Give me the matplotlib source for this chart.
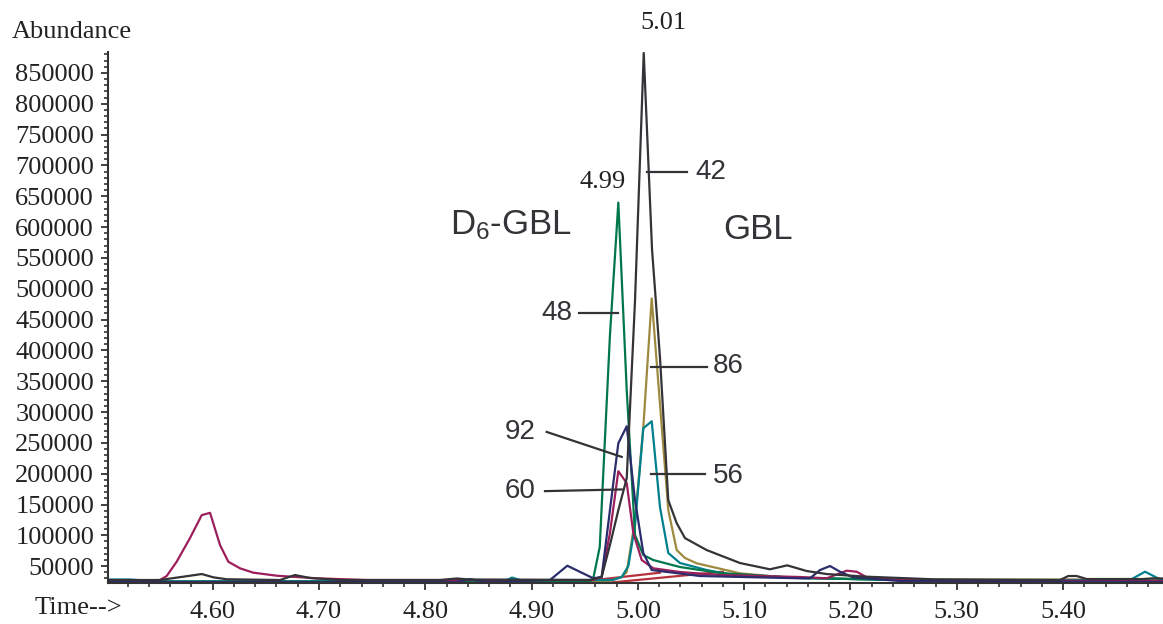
import matplotlib
matplotlib.use('Agg')
import matplotlib.pyplot as plt
from matplotlib.ticker import MultipleLocator, FuncFormatter

# ion traces (time in min, abundance)
black_t = [4.5015, 4.5504, 4.5897, 4.6006, 4.6132, 4.6633, 4.6774, 4.6915, 4.7198, 4.8138,
           4.8295, 4.8420, 4.9549, 4.9659, 4.9737, 4.9816, 4.9895, 4.9973, 5.0055, 5.0133,
           5.0208, 5.0286, 5.0365, 5.0443, 5.0647, 5.0960, 5.1242, 5.1405, 5.1588, 5.1776,
           5.2152, 5.2776, 5.3971, 5.4049, 5.4128, 5.4222, 5.4752, 5.4846, 5.4940]
black_v = [27500, 27500, 37200, 31900, 28700, 27500, 35600, 30800, 27500, 27500,
           30000, 28300, 27500, 32400, 84200, 140900, 192700, 481000, 882500, 564000,
           388000, 157000, 119800, 95500, 76100, 55100, 44900, 51300, 42100, 37200,
           32900, 28700, 27500, 34000, 34000, 29100, 29100, 30300, 30000]

green_t = [4.5015, 4.9549, 4.9581, 4.9641, 4.9737, 4.9816, 4.9895, 4.9973, 5.0051, 5.0145,
           5.0396, 5.0772, 5.1525, 5.2466, 5.4940]
green_v = [25100, 25100, 30800, 80900, 424300, 639700, 335200, 100400, 68000, 59900,
           48600, 38900, 30800, 27500, 25900]

gold_t = [4.5015, 4.9700, 4.9848, 4.9895, 4.9973, 5.0051, 5.0130, 5.0208, 5.0286, 5.0365,
          5.0443, 5.0553, 5.0960, 5.1365, 5.2466, 5.4818, 5.4940]
gold_v = [24300, 24300, 32400, 40500, 124700, 275300, 484200, 312500, 140900, 76100,
          63200, 54600, 38400, 31900, 27500, 28700, 27500]

teal_t = [4.5015, 4.5222, 4.5504, 4.8750, 4.8816, 4.8891, 4.9760, 4.9848, 4.9910, 4.9973,
          5.0051, 5.0130, 5.0208, 5.0286, 5.0396, 5.0647, 5.0895, 5.1525, 5.2466, 5.4630,
          5.4771, 5.4893, 5.4940]
teal_v = [28300, 28300, 25100, 25900, 31500, 27500, 27500, 32400, 50200, 116600,
          273700, 285000, 145700, 71300, 55100, 43700, 35600, 30800, 27500, 27500,
          41000, 30300, 27500]

navy_t = [4.5015, 4.8295, 4.8420, 4.8570, 4.9173, 4.9336, 4.9580, 4.9659, 4.9737, 4.9816,
          4.9895, 4.9973, 5.0051, 5.0130, 5.0584, 5.1525, 5.1619, 5.1713, 5.1807, 5.1901,
          5.2023, 5.2466, 5.4940]
navy_v = [24300, 24300, 29100, 24300, 27500, 50700, 30300, 32400, 140900, 249400,
          276900, 157100, 71300, 43700, 34000, 30300, 30300, 43700, 50200, 41000,
          31900, 25900, 24300]

magenta_t = [4.5015, 4.5504, 4.5567, 4.5661, 4.5786, 4.5897, 4.5975, 4.6069, 4.6147, 4.6257,
             4.6382, 4.6602, 4.6978, 4.7449, 4.9580, 4.9659, 4.9737, 4.9816, 4.9895, 4.9957,
             5.0036, 5.0145, 5.0396, 5.0772, 5.1525, 5.1776, 5.1964, 5.2058, 5.2152, 5.2466,
             5.4940]
magenta_v = [25900, 27500, 34000, 57200, 95500, 132800, 136500, 84200, 57200, 46500,
             39400, 34500, 30300, 27500, 27500, 32400, 103600, 204000, 184600, 103600,
             59900, 46500, 40500, 35600, 32400, 30300, 42600, 41000, 31900, 27500,
             25900]

red_a_t = [4.9596, 5.0208]
red_a_v = [27500, 39400]
red_b_t = [4.9753, 5.0800]
red_b_v = [23500, 41000]

colors = {
    'black': '#333338',
    'green': '#00774b',
    'gold': '#9e8a3e',
    'teal': '#00808c',
    'navy': '#2b2c6c',
    'magenta': '#9b1f5b',
    'red': '#b3323c',
}

W, H = 1163, 624
fig = plt.figure(figsize=(W / 100, H / 100), dpi=100)
ax = fig.add_axes([108 / W, 1 - 582.7 / H, 1 - 108 / W, (582.7 - 51.7) / H])

lw = 1.6
ax.plot(red_a_t, red_a_v, color=colors['red'], lw=lw)
ax.plot(red_b_t, red_b_v, color=colors['red'], lw=lw)
ax.plot(gold_t, gold_v, color=colors['gold'], lw=lw)
ax.plot(teal_t, teal_v, color=colors['teal'], lw=lw)
ax.plot(green_t, green_v, color=colors['green'], lw=lw)
ax.plot(magenta_t, magenta_v, color=colors['magenta'], lw=lw)
ax.plot(navy_t, navy_v, color=colors['navy'], lw=lw)
ax.plot(black_t, black_v, color=colors['black'], lw=lw)

ax.set_xlim(4.5015, 5.494)
ax.set_ylim(23157, 884500)

for s in ['top', 'right']:
    ax.spines[s].set_visible(False)
for s in ['left', 'bottom']:
    ax.spines[s].set_color('#333333')
    ax.spines[s].set_linewidth(1.5)

ax.xaxis.set_major_locator(MultipleLocator(0.1))
ax.xaxis.set_minor_locator(MultipleLocator(0.02))
ax.yaxis.set_major_locator(MultipleLocator(50000))
ax.yaxis.set_minor_locator(MultipleLocator(10000))
ax.xaxis.set_major_formatter(FuncFormatter(lambda v, p: '%.2f' % v))
ax.yaxis.set_major_formatter(FuncFormatter(lambda v, p: '%d' % v))

serif = 'Liberation Serif'
ax.tick_params(axis='both', which='major', length=5, width=1.3, color='#333333',
               labelsize=19, labelcolor='#222222')
ax.tick_params(axis='both', which='minor', length=3, width=1.2, color='#333333')
ax.tick_params(axis='x', which='major', pad=8)
ax.tick_params(axis='y', which='major', pad=5)
for lab in ax.get_xticklabels() + ax.get_yticklabels():
    lab.set_fontfamily(serif)

fig.text(12 / W, 1 - 32 / H, 'Abundance', fontfamily=serif, fontsize=19,
         color='#222222', va='center', ha='left')
fig.text(35 / W, 1 - 608 / H, 'Time-->', fontfamily=serif, fontsize=19,
         color='#222222', va='center', ha='left')

# retention time labels
ax.text(5.0236, 931000, '5.01', fontfamily=serif, fontsize=19, color='#222222',
        ha='center', va='center', clip_on=False)
ax.text(4.9664, 673700, '4.99', fontfamily=serif, fontsize=19, color='#222222',
        ha='center', va='center')

sans = 'Liberation Sans'
plt.rcParams['mathtext.fontset'] = 'custom'
plt.rcParams['mathtext.rm'] = sans
plt.rcParams['mathtext.it'] = sans
ax.text(4.8232, 602400, r'D$_{\mathregular{6}}$-GBL', fontfamily=sans, fontsize=25,
        color='#333338', ha='left', va='center')
ax.text(5.1133, 595900, 'GBL', fontfamily=sans, fontsize=25, color='#333338',
        ha='center', va='center')

# ion labels with leader lines
ion_labels = ['42', '48', '86', '56', '92', '60']
label_xy = [(5.0683, 688700), (4.9240, 460700), (5.0848, 374100),
            (5.0848, 196400), (4.8892, 267200), (4.8892, 171700)]
leader_lines = [((5.0088, 5.0461), (689000, 689000)),
                ((4.9446, 4.9810), (459900, 459900)),
                ((5.0127, 5.0649), (373500, 373500)),
                ((5.0127, 5.0635), (198700, 198700)),
                ((4.9142, 4.9848), (267700, 227200)),
                ((4.9126, 4.9848), (171700, 174400))]
for lab, (tx, ty), (lx, ly) in zip(ion_labels, label_xy, leader_lines):
    ax.text(tx, ty, lab, fontfamily=sans, fontsize=20, color='#333338',
            ha='center', va='center')
    ax.plot(lx, ly, color='#333338', lw=1.6)

fig.savefig('out.png', dpi=100)
